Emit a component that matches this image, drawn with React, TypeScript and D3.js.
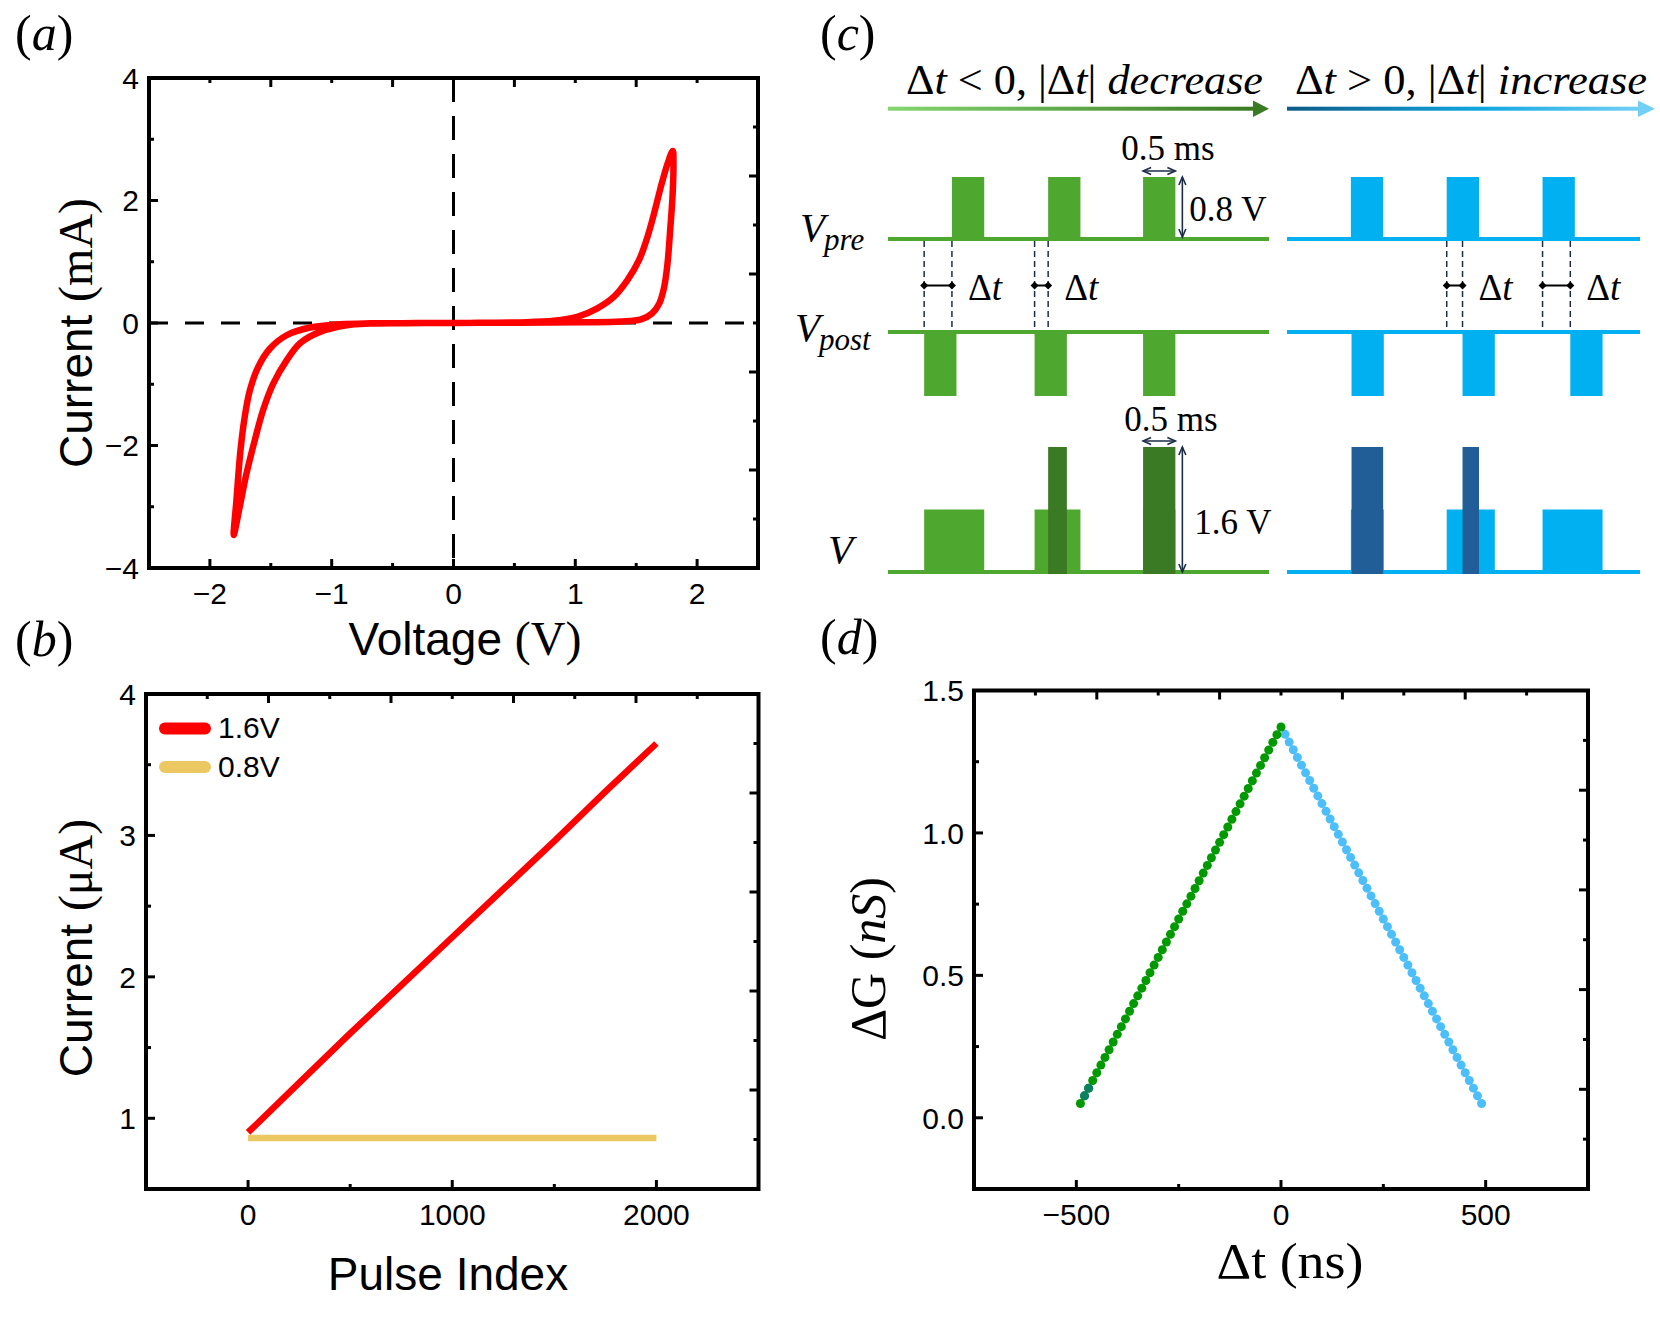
import React from 'react'
import * as d3 from 'd3'

const SANS = '"Liberation Sans", Arial, sans-serif'
const SERIF = '"Liberation Serif", "Times New Roman", serif'

// ---- (a) I-V sweep ----
const ivPosV = [0, 0.4, 0.8, 1.1, 1.37, 1.54, 1.63, 1.69, 1.73, 1.757, 1.779, 1.798, 1.806, 1.8, 1.757, 1.702, 1.647, 1.593, 1.524, 1.428, 1.318, 1.181, 1.016, 0.824, 0.55, 0.2, 0]
const ivPosI = [0, 0.004, 0.008, 0.012, 0.025, 0.06, 0.155, 0.32, 0.59, 0.97, 1.52, 2.06, 2.6, 2.81, 2.6, 2.22, 1.79, 1.41, 1.03, 0.7, 0.43, 0.24, 0.1, 0.035, 0.01, 0.003, 0]
const ivNegV = [0, -0.4, -0.685, -0.877, -1.096, -1.26, -1.37, -1.48, -1.563, -1.631, -1.7, -1.755, -1.804, -1.782, -1.749, -1.714, -1.672, -1.604, -1.508, -1.37, -1.178, -0.93, -0.68, -0.3, 0]
const ivNegI = [0, -0.004, -0.01, -0.036, -0.145, -0.33, -0.61, -0.99, -1.42, -1.91, -2.46, -3.0, -3.46, -2.89, -2.08, -1.53, -1.1, -0.72, -0.42, -0.2, -0.074, -0.02, -0.005, -0.002, 0]

// ---- (b) pulse response ----
const pulseIndex = [0, 250, 500, 750, 1000, 1250, 1500, 1750, 2000]
const current16V = [0.9, 1.25, 1.6, 1.94, 2.28, 2.62, 2.96, 3.31, 3.65]
const current08V = [0.86, 0.86, 0.86, 0.86, 0.86, 0.86, 0.86, 0.86, 0.86]

// ---- (c) pulse scheme (ms) ----
const PULSE_MS = 0.5
const PULSE_V = 0.8
const ltdPre = [0.99, 2.48, 3.95]
const ltdPost = [0.56, 2.27, 3.95]
const ltpPre = [0.99, 2.475, 3.96]
const ltpPost = [1.0, 2.72, 4.39]

// ---- (d) STDP ----
const dtNeg = [-490, -480, -470, -460, -450, -440, -430, -420, -410, -400, -390, -380, -370, -360, -350, -340, -330, -320, -310, -300, -290, -280, -270, -260, -250, -240, -230, -220, -210, -200, -190, -180, -170, -160, -150, -140, -130, -120, -110, -100, -90, -80, -70, -60, -50, -40, -30, -20, -10, 0]
const dgNeg = [0.050, 0.077, 0.104, 0.131, 0.158, 0.185, 0.212, 0.239, 0.266, 0.293, 0.320, 0.347, 0.374, 0.401, 0.428, 0.455, 0.482, 0.509, 0.536, 0.563, 0.590, 0.617, 0.644, 0.671, 0.698, 0.725, 0.751, 0.778, 0.805, 0.832, 0.859, 0.886, 0.913, 0.940, 0.967, 0.994, 1.021, 1.048, 1.075, 1.102, 1.129, 1.156, 1.183, 1.210, 1.237, 1.264, 1.291, 1.318, 1.345, 1.372]
const dtPos = [10, 20, 30, 40, 50, 60, 70, 80, 90, 100, 110, 120, 130, 140, 150, 160, 170, 180, 190, 200, 210, 220, 230, 240, 250, 260, 270, 280, 290, 300, 310, 320, 330, 340, 350, 360, 370, 380, 390, 400, 410, 420, 430, 440, 450, 460, 470, 480, 490]
const dgPos = [1.346, 1.319, 1.292, 1.265, 1.238, 1.211, 1.184, 1.157, 1.130, 1.103, 1.076, 1.049, 1.022, 0.995, 0.968, 0.941, 0.914, 0.887, 0.860, 0.833, 0.806, 0.779, 0.752, 0.725, 0.698, 0.671, 0.644, 0.617, 0.590, 0.563, 0.536, 0.509, 0.482, 0.455, 0.428, 0.401, 0.374, 0.347, 0.320, 0.293, 0.266, 0.239, 0.212, 0.185, 0.158, 0.131, 0.104, 0.077, 0.050]
const dtOdd = [-480, -470]
const dgOdd = [0.077, 0.104]

const minus = (s: string) => s.replace('-', '\u2212')

type Scale = d3.ScaleLinear<number, number>

function Axes({ x, y, xMajor, xMinor, yMajor, yMinor, xFmt, yFmt }: {
  x: Scale, y: Scale, xMajor: number[], xMinor: number[], yMajor: number[], yMinor: number[],
  xFmt: (v: number) => string, yFmt: (v: number) => string
}) {
  const [l, r] = x.range()
  const [b, t] = y.range()
  // the mirrored top/right axes carry their own (unlabelled) tick sets
  const topS = d3.scaleLinear().domain([-2.5, 2.5]).range([l, r])
  const rightS = d3.scaleLinear().domain([0, 10]).range([t, b])
  const tk = { stroke: '#000', strokeWidth: 3 }
  return (
    <g>
      {xMajor.map(v => <line key={'xM' + v} x1={x(v)} x2={x(v)} y1={b} y2={b - 9} {...tk} />)}
      {xMinor.map(v => <line key={'xm' + v} x1={x(v)} x2={x(v)} y1={b} y2={b - 5} {...tk} />)}
      {yMajor.map(v => <line key={'yM' + v} x1={l} x2={l + 9} y1={y(v)} y2={y(v)} {...tk} />)}
      {yMinor.map(v => <line key={'ym' + v} x1={l} x2={l + 5} y1={y(v)} y2={y(v)} {...tk} />)}
      {[-1.5, -0.5, 0.5, 1.5].map(v => <line key={'tM' + v} x1={topS(v)} x2={topS(v)} y1={t} y2={t + 9} {...tk} />)}
      {[-2, -1, 0, 1, 2].map(v => <line key={'tm' + v} x1={topS(v)} x2={topS(v)} y1={t} y2={t + 5} {...tk} />)}
      {[2, 4, 6, 8].map(v => <line key={'rM' + v} x1={r} x2={r - 9} y1={rightS(v)} y2={rightS(v)} {...tk} />)}
      {[1, 3, 5, 7, 9].map(v => <line key={'rm' + v} x1={r} x2={r - 5} y1={rightS(v)} y2={rightS(v)} {...tk} />)}
      <rect x={l} y={t} width={r - l} height={b - t} fill="none" stroke="#000" strokeWidth={4} />
      {xMajor.map(v => (
        <text key={'xl' + v} x={x(v)} y={b + 36} textAnchor="middle" fontFamily={SANS} fontSize={30}>{xFmt(v)}</text>
      ))}
      {yMajor.map(v => (
        <text key={'yl' + v} x={l - 10} y={y(v)} dy="0.36em" textAnchor="end" fontFamily={SANS} fontSize={30}>{yFmt(v)}</text>
      ))}
    </g>
  )
}

function PanelLabel({ x, y, ch }: { x: number, y: number, ch: string }) {
  return (
    <text x={x} y={y} fontFamily={SERIF} fontSize={50}>(<tspan fontStyle="italic">{ch}</tspan>)</text>
  )
}

// ---------- (a) ----------
function PanelA() {
  const x = d3.scaleLinear().domain([-2.5, 2.5]).range([149, 758])
  const y = d3.scaleLinear().domain([-4, 4]).range([568, 78])
  const line = d3.line<[number, number]>().x(d => x(d[0])).y(d => y(d[1])).curve(d3.curveCatmullRom.alpha(0.5))
  const pos = ivPosV.map((v, i) => [v, ivPosI[i]] as [number, number])
  const neg = ivNegV.map((v, i) => [v, ivNegI[i]] as [number, number])
  return (
    <g>
      <line x1={x(-2.5)} x2={x(2.5)} y1={y(0)} y2={y(0)} stroke="#000" strokeWidth={3} strokeDasharray="19 17" />
      <line x1={x(0)} x2={x(0)} y1={y(4)} y2={y(-4)} stroke="#000" strokeWidth={3} strokeDasharray="24 14" />
      <path d={line(pos) || ''} fill="none" stroke="#ff0000" strokeWidth={6.5} strokeLinejoin="round" />
      <path d={line(neg) || ''} fill="none" stroke="#ff0000" strokeWidth={6.5} strokeLinejoin="round" />
      <Axes x={x} y={y} xMajor={[-2, -1, 0, 1, 2]} xMinor={[-1.5, -0.5, 0.5, 1.5]}
        yMajor={[-4, -2, 0, 2, 4]} yMinor={[-3, -1, 1, 3]}
        xFmt={v => minus(String(v))} yFmt={v => minus(String(v))} />
      <text transform="translate(92,333) rotate(-90)" textAnchor="middle" fontSize={46}>
        <tspan fontFamily={SANS}>Current </tspan><tspan fontFamily={SERIF} fontSize={48}>(mA)</tspan>
      </text>
      <text x={465} y={655} textAnchor="middle" fontSize={46}>
        <tspan fontFamily={SANS}>Voltage </tspan><tspan fontFamily={SERIF} fontSize={48}>(V)</tspan>
      </text>
    </g>
  )
}

// ---------- (b) ----------
function PanelB() {
  const x = d3.scaleLinear().domain([-500, 2500]).range([146, 758.5])
  const y = d3.scaleLinear().domain([0.5, 4]).range([1189, 694])
  const line = d3.line<number>().x((_, i) => x(pulseIndex[i])).y(d => y(d))
  return (
    <g>
      <path d={line(current08V) || ''} fill="none" stroke="#ebc862" strokeWidth={6.5} />
      <path d={line(current16V) || ''} fill="none" stroke="#ff0000" strokeWidth={6.5} />
      <line x1={165} x2={205} y1={728.5} y2={728.5} stroke="#ff0000" strokeWidth={12} strokeLinecap="round" />
      <text x={218} y={738} fontFamily={SANS} fontSize={30}>1.6V</text>
      <line x1={165} x2={205} y1={767} y2={767} stroke="#ebc862" strokeWidth={12} strokeLinecap="round" />
      <text x={218} y={777} fontFamily={SANS} fontSize={30}>0.8V</text>
      <Axes x={x} y={y} xMajor={[0, 1000, 2000]} xMinor={[500, 1500]}
        yMajor={[1, 2, 3, 4]} yMinor={[1.5, 2.5, 3.5]}
        xFmt={v => String(v)} yFmt={v => String(v)} />
      <text transform="translate(92,948) rotate(-90)" textAnchor="middle" fontSize={46}>
        <tspan fontFamily={SANS}>Current </tspan><tspan fontFamily={SERIF} fontSize={48}>(μA)</tspan>
      </text>
      <text x={448} y={1290} textAnchor="middle" fontFamily={SANS} fontSize={46}>Pulse Index</text>
    </g>
  )
}

// ---------- (c) ----------
const NAVY = '#1c2d4a'
const vPre = d3.scaleLinear().domain([0, PULSE_V]).range([239, 177])
const vPost = d3.scaleLinear().domain([0, -PULSE_V]).range([332, 396])
const vOut = d3.scaleLinear().domain([0, 2 * PULSE_V]).range([572, 447])

function DoubleArrow({ x1, y1, x2, y2 }: { x1: number, y1: number, x2: number, y2: number }) {
  const a = Math.atan2(y2 - y1, x2 - x1)
  const h = 8, w = 3.5
  const head = (px: number, py: number, dir: number) => {
    const bx = px - Math.cos(dir) * h, by = py - Math.sin(dir) * h
    const nx = -Math.sin(dir) * w, ny = Math.cos(dir) * w
    return `M${bx + nx},${by + ny}L${px},${py}L${bx - nx},${by - ny}`
  }
  return (
    <g fill="none" stroke={NAVY} strokeWidth={1.6}>
      <line x1={x1} y1={y1} x2={x2} y2={y2} />
      <path d={head(x2, y2, a)} />
      <path d={head(x1, y1, a + Math.PI)} />
    </g>
  )
}

function Diamond({ x, y }: { x: number, y: number }) {
  return <path d={`M${x - 4},${y}L${x},${y - 4}L${x + 4},${y}L${x},${y + 4}Z`} fill="#000" />
}

function DtLabel({ x, y }: { x: number, y: number }) {
  return <text x={x} y={y} fontFamily={SERIF} fontSize={37}>Δ<tspan fontStyle="italic">t</tspan></text>
}

function PulseTrain({ t, pre, post, color, dark }: {
  t: Scale, pre: number[], post: number[], color: string, dark: string
}) {
  const [x0, x1] = t.range()
  const span = (a: number, b: number) => ({ x: t(a), width: t(b) - t(a) })
  return (
    <g>
      {[vPre(0), vPost(0), vOut(0)].map(yb => (
        <line key={yb} x1={x0} x2={x1} y1={yb} y2={yb} stroke={color} strokeWidth={4} />
      ))}
      {pre.map(s => (
        <rect key={'pre' + s} {...span(s, s + PULSE_MS)} y={vPre(PULSE_V)} height={vPre(0) - vPre(PULSE_V)} fill={color} />
      ))}
      {post.map(s => (
        <rect key={'post' + s} {...span(s, s + PULSE_MS)} y={vPost(0)} height={vPost(-PULSE_V) - vPost(0)} fill={color} />
      ))}
      {pre.map((s, i) => {
        const q = post[i]
        const lo = Math.min(s, q), hi = Math.max(s, q)
        const overlap = lo + PULSE_MS - hi
        const gap = hi - lo
        const yA = 285.5
        return (
          <g key={'v' + i}>
            <rect {...span(lo, hi + PULSE_MS)} y={vOut(PULSE_V)} height={vOut(0) - vOut(PULSE_V)} fill={color} />
            {overlap > 0.1 && (
              <rect {...span(hi, lo + PULSE_MS)} y={vOut(2 * PULSE_V)} height={vOut(0) - vOut(2 * PULSE_V) + 2} fill={dark} />
            )}
            {gap > 0.05 && (
              <g>
                {[lo, hi].map(v => (
                  <line key={v} x1={t(v)} x2={t(v)} y1={vPre(0) + 2} y2={vPost(0) - 2}
                    stroke={NAVY} strokeWidth={1.5} strokeDasharray="6 4" />
                ))}
                <line x1={t(lo)} x2={t(hi)} y1={yA} y2={yA} stroke="#000" strokeWidth={2} />
                <Diamond x={t(lo)} y={yA} />
                <Diamond x={t(hi)} y={yA} />
                <DtLabel x={t(hi) + 16} y={300} />
              </g>
            )}
          </g>
        )
      })}
    </g>
  )
}

function PanelC() {
  const tL = d3.scaleLinear().domain([0, 5.9]).range([888, 1269])
  const tR = d3.scaleLinear().domain([0, 5.47]).range([1287, 1640])
  const s3 = ltdPre[2]
  const aX = tL(s3 + PULSE_MS) + 7
  return (
    <g>
      <defs>
        <linearGradient id="gGreen" x1="0" x2="1" y1="0" y2="0">
          <stop offset="0" stopColor="#84d56f" />
          <stop offset="1" stopColor="#3a7a22" />
        </linearGradient>
        <linearGradient id="gBlue" x1="0" x2="1" y1="0" y2="0">
          <stop offset="0" stopColor="#0d5a86" />
          <stop offset="0.55" stopColor="#10a6e0" />
          <stop offset="1" stopColor="#72d0f6" />
        </linearGradient>
      </defs>
      <text x={906} y={94} fontFamily={SERIF} fontSize={42} textLength={357} lengthAdjust="spacingAndGlyphs">
        Δ<tspan fontStyle="italic">t</tspan> {'< 0, |Δ'}<tspan fontStyle="italic">t</tspan>| <tspan fontStyle="italic">decrease</tspan>
      </text>
      <text x={1295} y={94} fontFamily={SERIF} fontSize={42} textLength={352} lengthAdjust="spacingAndGlyphs">
        Δ<tspan fontStyle="italic">t</tspan> {'> 0, |Δ'}<tspan fontStyle="italic">t</tspan>| <tspan fontStyle="italic">increase</tspan>
      </text>
      <rect x={888} y={106.7} width={366} height={4} fill="url(#gGreen)" />
      <path d="M1253,100.5L1269,108.7L1253,116.9Z" fill="#3a7a22" />
      <rect x={1287} y={106.7} width={352} height={4} fill="url(#gBlue)" />
      <path d="M1638,100.5L1655,108.7L1638,116.9Z" fill="#72d0f6" />

      <PulseTrain t={tL} pre={ltdPre} post={ltdPost} color="#4ea72e" dark="#3b7a24" />
      <PulseTrain t={tR} pre={ltpPre} post={ltpPost} color="#00b0f0" dark="#215e98" />

      <DoubleArrow x1={tL(s3)} y1={171} x2={tL(s3 + PULSE_MS)} y2={171} />
      <text x={1168} y={160} textAnchor="middle" fontFamily={SERIF} fontSize={35}>0.5 ms</text>
      <DoubleArrow x1={aX} y1={vPre(PULSE_V)} x2={aX} y2={vPre(0) - 2} />
      <text x={aX + 7} y={221} fontFamily={SERIF} fontSize={35}>0.8 V</text>

      <DoubleArrow x1={tL(s3)} y1={441} x2={tL(s3 + PULSE_MS)} y2={441} />
      <text x={1171} y={431} textAnchor="middle" fontFamily={SERIF} fontSize={35}>0.5 ms</text>
      <DoubleArrow x1={aX} y1={vOut(2 * PULSE_V)} x2={aX} y2={vOut(0)} />
      <text x={aX + 12} y={534} fontFamily={SERIF} fontSize={35}>1.6 V</text>

      <text x={800} y={241} fontFamily={SERIF} fontSize={41} fontStyle="italic">V<tspan dx={-1} dy={9} fontSize={31}>pre</tspan></text>
      <text x={795} y={341} fontFamily={SERIF} fontSize={41} fontStyle="italic">V<tspan dx={-1} dy={9} fontSize={31}>post</tspan></text>
      <text x={828} y={563} fontFamily={SERIF} fontSize={41} fontStyle="italic">V</text>
    </g>
  )
}

// ---------- (d) ----------
function PanelD() {
  const x = d3.scaleLinear().domain([-750, 750]).range([974, 1588])
  const y = d3.scaleLinear().domain([-0.25, 1.5]).range([1189, 690.5])
  return (
    <g>
      {dtPos.map((v, i) => <circle key={'p' + v} cx={x(v)} cy={y(dgPos[i])} r={4.5} fill="#4cbefa" />)}
      {dtNeg.map((v, i) => <circle key={'n' + v} cx={x(v)} cy={y(dgNeg[i])} r={4.5} fill="#009a00" />)}
      {dtOdd.map((v, i) => <circle key={'o' + v} cx={x(v)} cy={y(dgOdd[i])} r={4.5} fill="#0a8063" />)}
      <Axes x={x} y={y} xMajor={[-500, 0, 500]} xMinor={[-250, 250]}
        yMajor={[0, 0.5, 1, 1.5]} yMinor={[0.25, 0.75, 1.25]}
        xFmt={v => minus(String(v))} yFmt={v => d3.format('.1f')(v)} />
      <text transform="translate(885,959) rotate(-90)" textAnchor="middle" fontFamily={SERIF} fontSize={50}>
        ΔG (<tspan fontStyle="italic">nS</tspan>)
      </text>
      <text x={1290} y={1278} textAnchor="middle" fontFamily={SERIF} fontSize={50} textLength={147} lengthAdjust="spacingAndGlyphs">Δt (ns)</text>
    </g>
  )
}

export default function App() {
  return (
    <svg width={1660} height={1320} viewBox="0 0 1660 1320"
      style={{ position: 'absolute', left: 0, top: 0, background: '#fff' }}>
      <rect width={1660} height={1320} fill="#fff" />
      <PanelLabel x={15} y={50} ch="a" />
      <PanelLabel x={15} y={656} ch="b" />
      <PanelLabel x={820} y={50} ch="c" />
      <PanelLabel x={820} y={654} ch="d" />
      <PanelA />
      <PanelB />
      <PanelC />
      <PanelD />
    </svg>
  )
}
